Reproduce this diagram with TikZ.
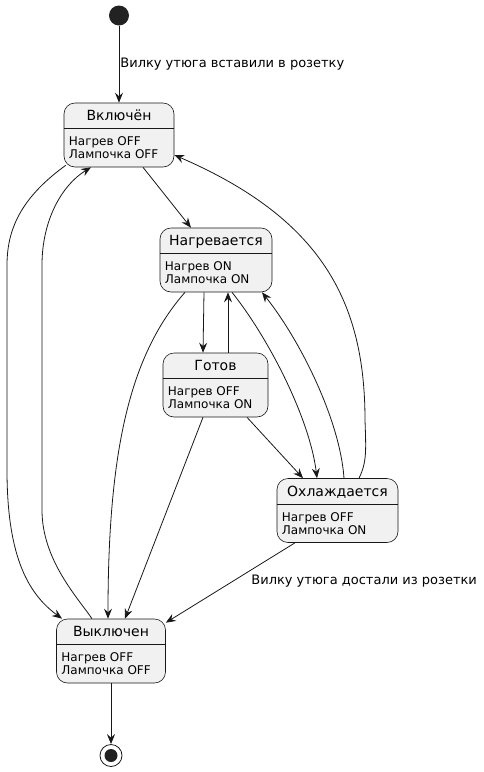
\documentclass[tikz,border=0pt]{standalone}
\usepackage{fontspec}
\setmainfont{DejaVu Sans}
\usetikzlibrary{arrows.meta,calc}
\definecolor{StateFill}{HTML}{F1F1F1}
\definecolor{StateLine}{HTML}{181818}
\definecolor{DotFill}{HTML}{222222}
\newcommand{\StateHeight}{64}
\newcommand{\TitleBase}{18}
\newcommand{\SepDrop}{26}
\newcommand{\AttrBase}{43}
\newcommand{\AttrSkip}{13}
\newcommand{\PlaceState}[7]{%
  % #1 name, #2 x-centre, #3 top edge, #4 width, #5 title, #6 and #7 attribute lines
  \node[statebox,minimum width=#4pt] (#1) at (#2,#3+\StateHeight/2) {};
  \node[statetitle,anchor=base] (#1-title) at ($(#1.north)+(0,\TitleBase)$) {#5};
  \draw[statesep] ($(#1.north west)+(0,\SepDrop)$) -- ($(#1.north east)+(0,\SepDrop)$);
  \node[stateattr,anchor=base west] (#1-heater) at ($(#1.north west)+(5,\AttrBase)$) {#6};
  \node[stateattr,anchor=base west] (#1-lamp) at ($(#1.north west)+(5,\AttrBase+\AttrSkip)$) {#7};
}

\begin{document}
\begin{tikzpicture}[
  x=1pt,y=-1pt,
  >=Stealth,
  statebox/.style={draw=StateLine,line width=0.6pt,fill=StateFill,rounded corners=11pt,
    minimum height=\StateHeight pt,inner sep=0pt},
  statesep/.style={draw=StateLine,line width=0.6pt},
  statetitle/.style={inner sep=0pt,font=\fontsize{14}{16}\selectfont},
  stateattr/.style={inner sep=0pt,font=\fontsize{12}{13}\selectfont},
  edgelabel/.style={inner sep=0pt,font=\fontsize{13}{15}\selectfont},
  transit/.style={draw=StateLine,line width=0.8pt,-{Stealth[length=10pt,width=8pt,inset=3.5pt]}},
  initdot/.style={circle,fill=DotFill,minimum size=20pt,inner sep=0pt},
  finalring/.style={circle,draw=StateLine,line width=0.8pt,minimum size=22pt,inner sep=0pt},
  finaldot/.style={circle,fill=DotFill,minimum size=13pt,inner sep=0pt}
]
\useasboundingbox (0,0) rectangle (483,772);

% Pseudo states
\node[initdot] (init) at (119,15.5) {};
\node[finalring] (final) at (111,755.5) {};
\node[finaldot] (final-dot) at (final) {};

% States
\PlaceState{on}{119}{103}{110}{Включён}{Нагрев OFF}{Лампочка OFF}
\PlaceState{heat}{216}{228}{112}{Нагревается}{Нагрев ON}{Лампочка ON}
\PlaceState{ready}{215.5}{353}{105}{Готов}{Нагрев OFF}{Лампочка ON}
\PlaceState{cool}{337.5}{478.5}{121}{Охлаждается}{Нагрев OFF}{Лампочка ON}
\PlaceState{off}{111}{619}{109}{Выключен}{Нагрев OFF}{Лампочка OFF}

% Transitions
\draw[transit] (init) -- node[edgelabel,pos=0.5,anchor=west,xshift=1pt] (plugin) {Вилку утюга вставили в розетку} (on);
\draw[transit] ([xshift=24pt]on.south) -- ([xshift=-25pt]heat.north);
\draw[transit] ([xshift=2pt,yshift=2pt]on.south west) .. controls (25,195) and (7,225) .. (7,265)
  -- (7,470) .. controls (7,560) and (30,595) .. ([xshift=-49pt]off.north);
\draw[transit] ([xshift=-19pt]off.north) .. controls (78,598) and (42,560) .. (42,510)
  -- (42,265) .. controls (42,220) and (62,185) .. ([xshift=-28pt]on.south);
\draw[transit] ([xshift=-12pt]heat.south) -- ([xshift=-12.5pt]ready.north);
\draw[transit] ([xshift=12.5pt]ready.north) -- ([xshift=12pt]heat.south);
\draw[transit] ([xshift=16pt]heat.south) .. controls (270,340) and (310,420) .. ([xshift=-20.5pt]cool.north);
\draw[transit] ([xshift=6.5pt]cool.north) .. controls (340,420) and (300,340) .. ([xshift=46pt]heat.south);
\draw[transit] ([xshift=31.5pt]ready.south) -- ([xshift=-34.5pt]cool.north);
\draw[transit] ([xshift=21.5pt]cool.north) .. controls (367,462) and (366,450) .. (365,420)
  .. controls (365,300) and (320,218) .. ([yshift=-20pt]on.east);
\draw[transit] ([xshift=-31pt]heat.south) .. controls (130,355) and (108,450) .. ([xshift=-3pt]off.north);
\draw[transit] ([xshift=-12.5pt]ready.south) -- ([xshift=14pt]off.north);
\draw[transit] ([xshift=-42.5pt]cool.south) -- node[edgelabel,pos=0.48,anchor=west,xshift=18pt] (unplug) {Вилку утюга достали из розетки} ([yshift=-4pt]off.north east);
\draw[transit] (off) -- (final);

\end{tikzpicture}
\end{document}
